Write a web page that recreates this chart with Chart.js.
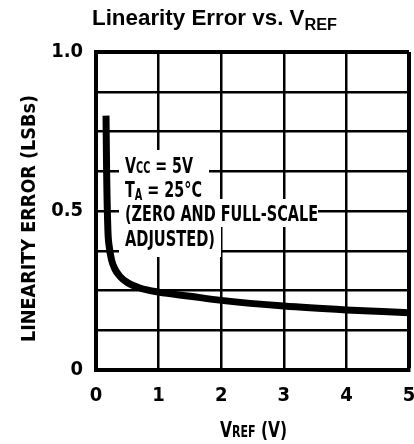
<!DOCTYPE html>
<html>
<head>
<meta charset="utf-8">
<script src="https://cdn.jsdelivr.net/npm/chart.js@4.4.1/dist/chart.umd.min.js"></script>
<style>
  html, body { margin: 0; padding: 0; background: #fff; }
  #wrap { position: relative; width: 414px; height: 444px; }
</style>
</head>
<body>
<div id="wrap"><canvas id="chart"></canvas></div>
<script>
// curve: V_REF (V) -> linearity error (LSBs)
const vref   = [0.16, 0.17, 0.19, 0.21, 0.25, 0.30, 0.38, 0.50, 0.70, 1.0, 1.5, 2.0, 3.0, 4.0, 5.0];
const linErr = [0.80, 0.62, 0.44, 0.39, 0.345, 0.318, 0.295, 0.275, 0.258, 0.245, 0.232, 0.219, 0.201, 0.189, 0.18];

const xTicks = [0, 1, 2, 3, 4, 5];
const yTickLabels = { 0: "0", 0.5: "0.5", 1: "1.0" };

const COND = "'Liberation Sans Narrow', 'DejaVu Sans Condensed', 'Open Sans', sans-serif";
const SANS = "'Liberation Sans', Arial, sans-serif";

// draws runs of text [text, size, dy] squeezed to a given width
function drawRich(ctx, x, y, segs, width, family) {
  let total = 0;
  segs.forEach(s => {
    ctx.font = "bold " + s[1] + "px " + family;
    total += ctx.measureText(s[0]).width;
  });
  ctx.save();
  ctx.translate(x, y);
  ctx.scale(width / total, 1);
  let cx = 0;
  segs.forEach(s => {
    ctx.font = "bold " + s[1] + "px " + family;
    ctx.fillText(s[0], cx, s[2] || 0);
    cx += ctx.measureText(s[0]).width;
  });
  ctx.restore();
}

const textPlugin = {
  id: "texts",
  beforeDatasetsDraw(chart) {
    // white box behind the condition note, hides the grid there
    const ctx = chart.ctx;
    ctx.save();
    ctx.fillStyle = "#fff";
    ctx.fillRect(119, 150, 90, 30);
    ctx.fillRect(119, 178, 93, 23);
    ctx.fillRect(119, 199, 199, 28);
    ctx.fillRect(119, 226, 102, 31);
    ctx.restore();
  },
  afterDraw(chart) {
    const ctx = chart.ctx;
    ctx.save();
    ctx.fillStyle = "#000";
    ctx.textBaseline = "alphabetic";
    ctx.textAlign = "left";

    // title
    drawRich(ctx, 92, 25, [["Linearity Error vs. V", 22], ["REF", 16, 5]], 245, SANS);

    // note
    drawRich(ctx, 125, 173, [["V", 22], ["CC", 15], [" = 5V", 22]], 68, COND);
    drawRich(ctx, 125, 197, [["T", 22], ["A", 15, 3], [" = 25°C", 22]], 77, COND);
    drawRich(ctx, 125, 221, [["(ZERO AND FULL-SCALE", 22]], 193, COND);
    drawRich(ctx, 125, 246, [["ADJUSTED)", 22]], 90, COND);

    // x axis title
    drawRich(ctx, 220, 437, [["V", 21], ["REF", 15], [" (V)", 21]], 67, COND);

    // y axis title
    ctx.translate(35, 342);
    ctx.rotate(-Math.PI / 2);
    drawRich(ctx, 0, 0, [["LINEARITY ERROR (LSBs)", 20]], 247, COND);
    ctx.restore();
  }
};

new Chart(document.getElementById("chart"), {
  type: "scatter",
  data: {
    datasets: [{
      data: vref.map((v, i) => ({ x: v, y: linErr[i] })),
      showLine: true,
      borderColor: "#000",
      borderWidth: 7,
      borderCapStyle: "butt",
      borderJoinStyle: "round",
      pointRadius: 0,
      cubicInterpolationMode: "monotone"
    }]
  },
  options: {
    responsive: true,
    maintainAspectRatio: false,
    animation: false,
    layout: { padding: { top: 52, right: 5, left: 0, bottom: 0 } },
    plugins: { legend: { display: false }, tooltip: { enabled: false }, title: { display: false } },
    scales: {
      x: {
        type: "linear",
        min: 0, max: 5,
        afterBuildTicks: s => { s.ticks = xTicks.map(v => ({ value: v })); },
        afterFit: s => { s.height = 74; s.paddingLeft = 0; s.paddingRight = 0; },
        grid: {
          color: "#000",
          lineWidth: c => (c.tick && c.tick.value === 5 ? 4 : 2.5),
          drawTicks: false
        },
        border: { display: true, color: "#000", width: 4 },
        ticks: {
          color: "#000",
          padding: 14,
          font: { family: COND, size: 20, weight: "bold" }
        }
      },
      y: {
        type: "linear",
        min: 0, max: 1,
        ticks: {
          stepSize: 0.125,
          color: "#000",
          padding: 13,
          font: { family: COND, size: 20, weight: "bold" },
          callback: v => {
            const k = Object.keys(yTickLabels).find(t => Math.abs(+t - v) < 1e-6);
            return k !== undefined ? yTickLabels[k] : "";
          }
        },
        afterFit: s => { s.width = 96; s.paddingTop = 0; s.paddingBottom = 0; },
        grid: {
          color: "#000",
          lineWidth: c => (c.tick && Math.abs(c.tick.value - 1) < 1e-6 ? 4 : 2.5),
          drawTicks: false
        },
        border: { display: true, color: "#000", width: 4 }
      }
    }
  },
  plugins: [textPlugin]
});
</script>
</body>
</html>
